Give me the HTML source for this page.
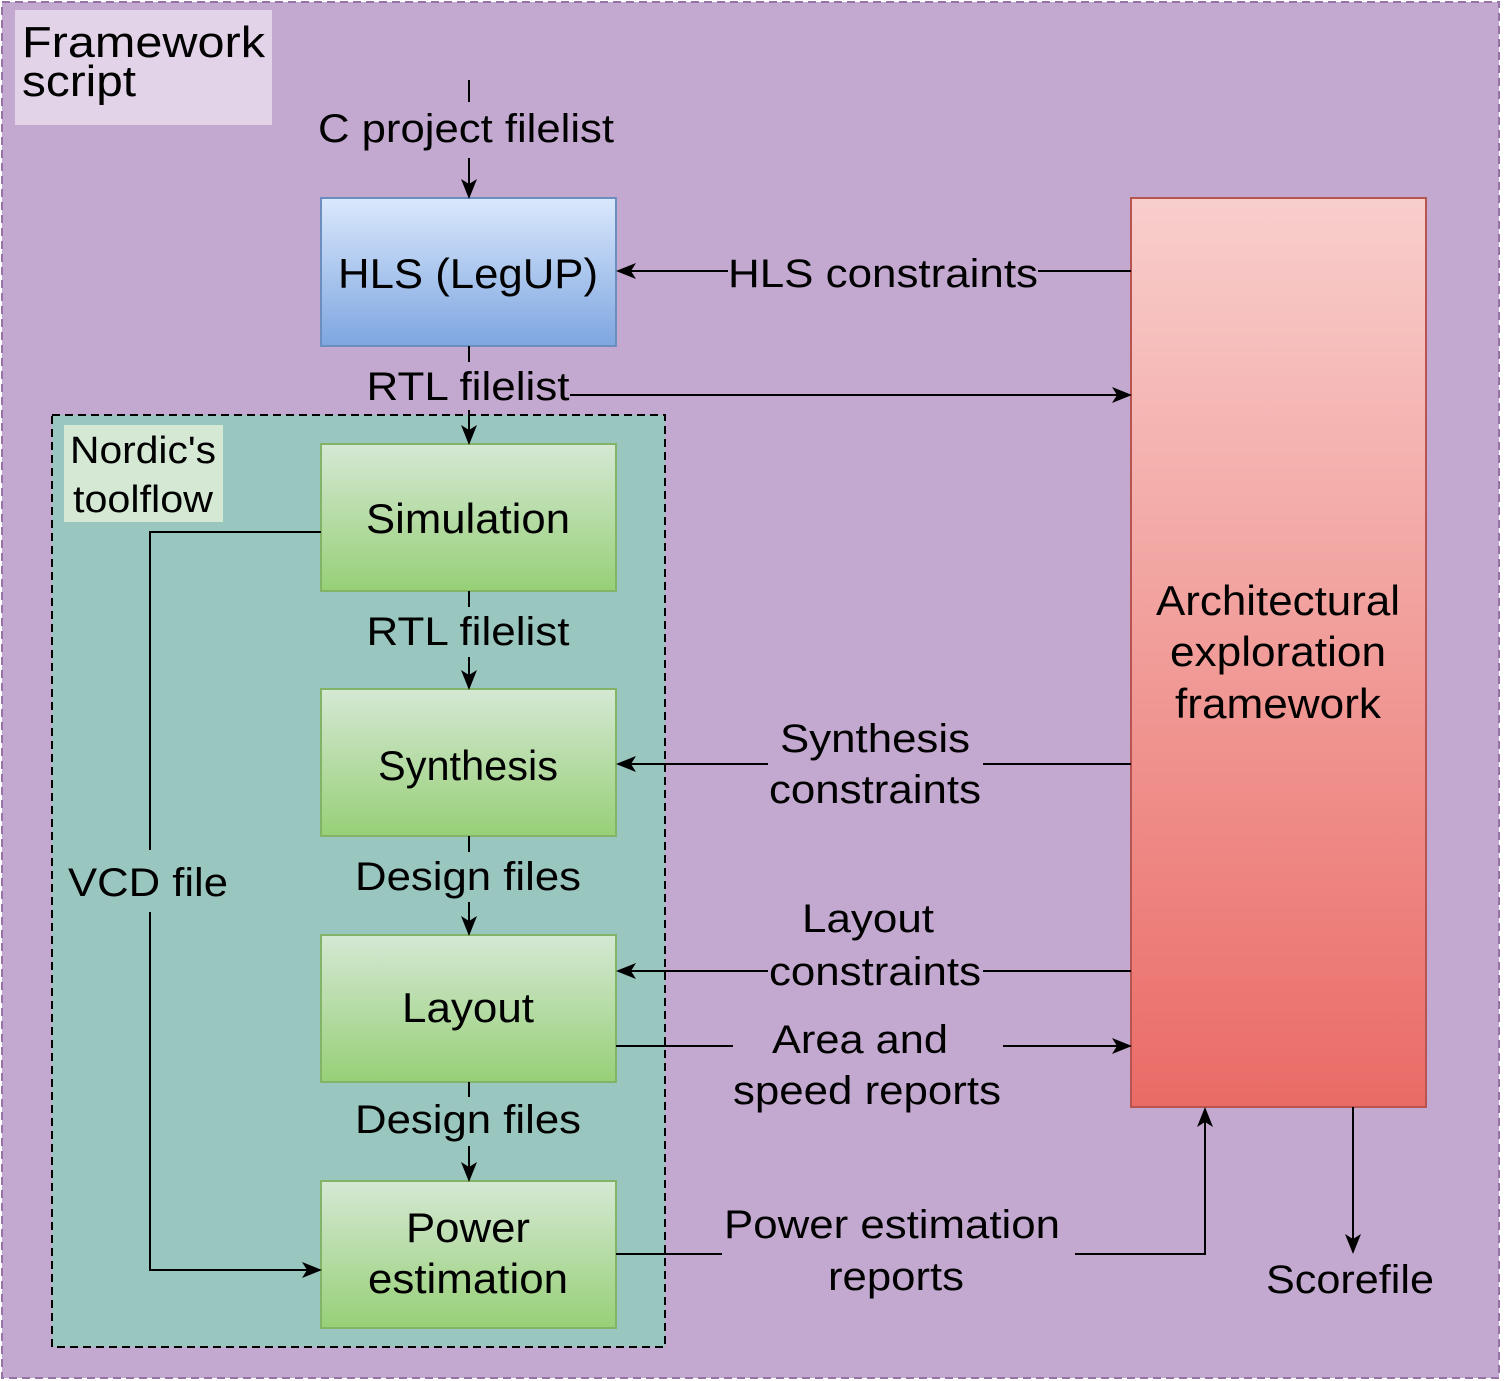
<!DOCTYPE html>
<html><head><meta charset="utf-8"><style>
html,body{margin:0;padding:0;background:#fff;}
svg{display:block;}
text{font-family:"Liberation Sans",Arial,sans-serif;fill:#000;}
</style></head><body>
<svg width="1504" height="1381" viewBox="0 0 1504 1381" xmlns="http://www.w3.org/2000/svg">
<defs>
<linearGradient id="gb" x1="0" y1="0" x2="0" y2="1"><stop offset="0" stop-color="#dae8fc"/><stop offset="1" stop-color="#7ea6e0"/></linearGradient>
<linearGradient id="gg" x1="0" y1="0" x2="0" y2="1"><stop offset="0" stop-color="#d5e8d4"/><stop offset="1" stop-color="#97d077"/></linearGradient>
<linearGradient id="gr" x1="0" y1="0" x2="0" y2="1"><stop offset="0" stop-color="#f8cecc"/><stop offset="1" stop-color="#ea6b66"/></linearGradient>
<marker id="a" viewBox="0 0 20 20" refX="18" refY="10" markerWidth="20" markerHeight="20" markerUnits="userSpaceOnUse" orient="auto">
<path d="M0,2 L20,10 L0,18 L5,10 Z" fill="#000"/></marker>
</defs>
<rect x="2" y="2" width="1497" height="1376" fill="#c3a9cf" stroke="#9673a6" stroke-width="2" stroke-dasharray="8,5"/>
<rect x="15" y="10" width="257" height="115" fill="#e2d3e8"/>
<text x="22" y="57" font-size="44" textLength="243" lengthAdjust="spacingAndGlyphs">Framework</text>
<text x="22" y="96" font-size="44" textLength="114" lengthAdjust="spacingAndGlyphs">script</text>

<rect x="52" y="415" width="613" height="932" fill="#9ac6c0" stroke="#000" stroke-width="2" stroke-dasharray="8,5"/>
<rect x="64" y="425" width="159" height="97" fill="#d5e8d4"/>
<text x="143" y="463" font-size="38" text-anchor="middle" textLength="146" lengthAdjust="spacingAndGlyphs">Nordic's</text>
<text x="143" y="512" font-size="38" text-anchor="middle" textLength="140" lengthAdjust="spacingAndGlyphs">toolflow</text>

<rect x="321" y="198" width="295" height="148" fill="url(#gb)" stroke="#6c8ebf" stroke-width="2"/>
<text x="468" y="288" font-size="42" text-anchor="middle" textLength="260" lengthAdjust="spacingAndGlyphs">HLS (LegUP)</text>

<rect x="321" y="444" width="295" height="147" fill="url(#gg)" stroke="#82b366" stroke-width="2"/>
<text x="468" y="533" font-size="42" text-anchor="middle" textLength="204" lengthAdjust="spacingAndGlyphs">Simulation</text>
<rect x="321" y="689" width="295" height="147" fill="url(#gg)" stroke="#82b366" stroke-width="2"/>
<text x="468" y="780" font-size="42" text-anchor="middle" textLength="180" lengthAdjust="spacingAndGlyphs">Synthesis</text>
<rect x="321" y="935" width="295" height="147" fill="url(#gg)" stroke="#82b366" stroke-width="2"/>
<text x="468" y="1022" font-size="42" text-anchor="middle" textLength="132" lengthAdjust="spacingAndGlyphs">Layout</text>
<rect x="321" y="1181" width="295" height="147" fill="url(#gg)" stroke="#82b366" stroke-width="2"/>
<text x="468" y="1242" font-size="42" text-anchor="middle" textLength="124" lengthAdjust="spacingAndGlyphs">Power</text>
<text x="468" y="1293" font-size="42" text-anchor="middle" textLength="200" lengthAdjust="spacingAndGlyphs">estimation</text>

<rect x="1131" y="198" width="295" height="909" fill="url(#gr)" stroke="#b85450" stroke-width="2"/>
<text x="1278" y="615" font-size="42" text-anchor="middle" textLength="244" lengthAdjust="spacingAndGlyphs">Architectural</text>
<text x="1278" y="666" font-size="42" text-anchor="middle" textLength="216" lengthAdjust="spacingAndGlyphs">exploration</text>
<text x="1278" y="718" font-size="42" text-anchor="middle" textLength="206" lengthAdjust="spacingAndGlyphs">framework</text>

<g stroke="#000" stroke-width="2" fill="none">
<line x1="469" y1="80" x2="469" y2="102"/>
<line x1="469" y1="158" x2="469" y2="197" marker-end="url(#a)"/>
<line x1="1131" y1="271" x2="1038" y2="271"/>
<line x1="728" y1="271" x2="618" y2="271" marker-end="url(#a)"/>
<line x1="469" y1="346" x2="469" y2="362"/>
<line x1="469" y1="410" x2="469" y2="443" marker-end="url(#a)"/>
<line x1="570" y1="395" x2="1130" y2="395" marker-end="url(#a)"/>
<polyline points="321,532 150,532 150,850"/>
<polyline points="150,912 150,1270 320,1270" marker-end="url(#a)"/>
<line x1="469" y1="591" x2="469" y2="607"/>
<line x1="469" y1="657" x2="469" y2="688" marker-end="url(#a)"/>
<line x1="1131" y1="764" x2="983" y2="764"/>
<line x1="768" y1="764" x2="618" y2="764" marker-end="url(#a)"/>
<line x1="469" y1="836" x2="469" y2="852"/>
<line x1="469" y1="902" x2="469" y2="934" marker-end="url(#a)"/>
<line x1="1131" y1="971" x2="983" y2="971"/>
<line x1="768" y1="971" x2="618" y2="971" marker-end="url(#a)"/>
<line x1="616" y1="1046" x2="733" y2="1046"/>
<line x1="1003" y1="1046" x2="1130" y2="1046" marker-end="url(#a)"/>
<line x1="469" y1="1082" x2="469" y2="1097"/>
<line x1="469" y1="1146" x2="469" y2="1180" marker-end="url(#a)"/>
<line x1="616" y1="1254" x2="722" y2="1254"/>
<polyline points="1075,1254 1205,1254 1205,1109" marker-end="url(#a)"/>
<line x1="1353" y1="1107" x2="1353" y2="1252" marker-end="url(#a)"/>
</g>

<text x="466" y="142" font-size="40" text-anchor="middle" textLength="296" lengthAdjust="spacingAndGlyphs">C project filelist</text>
<text x="883" y="287" font-size="40" text-anchor="middle" textLength="310" lengthAdjust="spacingAndGlyphs">HLS constraints</text>
<text x="468" y="400" font-size="40" text-anchor="middle" textLength="203" lengthAdjust="spacingAndGlyphs">RTL filelist</text>
<text x="468" y="645" font-size="40" text-anchor="middle" textLength="203" lengthAdjust="spacingAndGlyphs">RTL filelist</text>
<text x="148" y="896" font-size="40" text-anchor="middle" textLength="160" lengthAdjust="spacingAndGlyphs">VCD file</text>
<text x="875" y="752" font-size="40" text-anchor="middle" textLength="190" lengthAdjust="spacingAndGlyphs">Synthesis</text>
<text x="875" y="803" font-size="40" text-anchor="middle" textLength="212" lengthAdjust="spacingAndGlyphs">constraints</text>
<text x="468" y="890" font-size="40" text-anchor="middle" textLength="226" lengthAdjust="spacingAndGlyphs">Design files</text>
<text x="868" y="932" font-size="40" text-anchor="middle" textLength="132" lengthAdjust="spacingAndGlyphs">Layout</text>
<text x="875" y="985" font-size="40" text-anchor="middle" textLength="212" lengthAdjust="spacingAndGlyphs">constraints</text>
<text x="860" y="1053" font-size="40" text-anchor="middle" textLength="176" lengthAdjust="spacingAndGlyphs">Area and</text>
<text x="867" y="1104" font-size="40" text-anchor="middle" textLength="268" lengthAdjust="spacingAndGlyphs">speed reports</text>
<text x="468" y="1133" font-size="40" text-anchor="middle" textLength="226" lengthAdjust="spacingAndGlyphs">Design files</text>
<text x="892" y="1238" font-size="40" text-anchor="middle" textLength="336" lengthAdjust="spacingAndGlyphs">Power estimation</text>
<text x="896" y="1290" font-size="40" text-anchor="middle" textLength="136" lengthAdjust="spacingAndGlyphs">reports</text>
<text x="1350" y="1293" font-size="40" text-anchor="middle" textLength="168" lengthAdjust="spacingAndGlyphs">Scorefile</text>
</svg>
</body></html>
